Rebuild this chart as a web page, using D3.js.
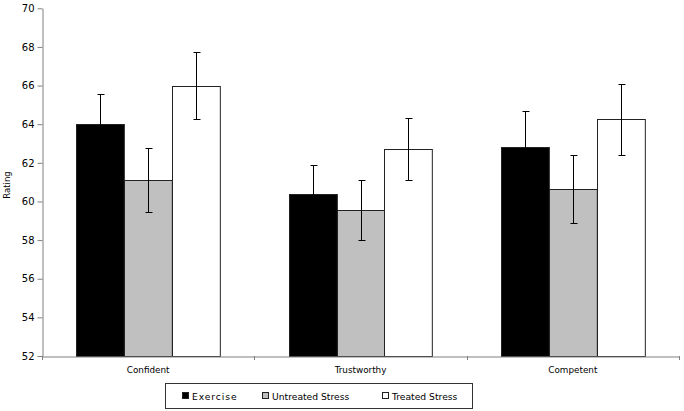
<!DOCTYPE html>
<html><head><meta charset="utf-8">
<script src="https://cdn.jsdelivr.net/npm/d3@7"></script>
<style>
body{margin:0;background:#fff;}
svg text{font-family:"DejaVu Sans",sans-serif;fill:#000;}
</style></head>
<body><svg id="c" width="684" height="411"></svg>
<script>
const categories = ["Confident", "Trustworthy", "Competent"];
const seriesNames = ["Exercise", "Untreated Stress", "Treated Stress"];
const seriesColors = ["#000000", "#c0c0c0", "#ffffff"];
const exerciseMeans = [64.0, 60.4, 62.8];
const exerciseErr = [1.57, 1.47, 1.86];
const untreatedMeans = [61.1, 59.55, 60.65];
const untreatedErr = [1.66, 1.57, 1.77];
const treatedMeans = [66.0, 62.7, 64.25];
const treatedErr = [1.72, 1.6, 1.85];
const yTicks = [52, 54, 56, 58, 60, 62, 64, 66, 68, 70];

const means = [exerciseMeans, untreatedMeans, treatedMeans];
const errs = [exerciseErr, untreatedErr, treatedErr];

const svg = d3.select("#c");
const mLeft = 42, mRight = 679, mTop = 8.3, mBottom = 356;
const y = d3.scaleLinear().domain([52, 70]).range([mBottom, mTop]);
const x = d3.scaleBand().domain(categories).range([mLeft, mRight]).padding(0);
const xs = d3.scaleBand().domain(seriesNames).range([0, x.bandwidth()]).paddingInner(0).paddingOuter(0.72);

const data = [];
categories.forEach((c, ci) => seriesNames.forEach((s, si) => {
  data.push({c, s, si, v: means[si][ci], e: errs[si][ci]});
}));

// bars
svg.append("g").selectAll("rect").data(data).join("rect")
  .attr("x", d => Math.round(x(d.c) + xs(d.s)) + 0.5)
  .attr("y", d => Math.round(y(d.v)) + 0.5)
  .attr("width", xs.bandwidth())
  .attr("height", d => y(52) - Math.round(y(d.v)))
  .attr("fill", d => seriesColors[d.si])
  .attr("stroke", "#222").attr("stroke-width", 1);

// error bars
const eg = svg.append("g").attr("stroke", "#000").attr("stroke-width", 1);
data.forEach(d => {
  const cx = Math.round(x(d.c) + xs(d.s) + xs.bandwidth() / 2) + 0.5;
  const y1 = Math.round(y(d.v + d.e)) + 0.5, y2 = Math.round(y(d.v - d.e)) + 0.5;
  eg.append("line").attr("x1", cx).attr("x2", cx).attr("y1", y1).attr("y2", y2);
  eg.append("line").attr("x1", cx - 3).attr("x2", cx + 4).attr("y1", y1).attr("y2", y1);
  eg.append("line").attr("x1", cx - 3).attr("x2", cx + 4).attr("y1", y2).attr("y2", y2);
});

// y axis
const ya = svg.append("g").attr("transform", `translate(${mLeft + 0.5},0)`)
  .call(d3.axisLeft(y).tickValues(yTicks).tickSize(5).tickSizeOuter(0).tickPadding(3));
ya.select(".domain").attr("stroke", "#808080");
ya.selectAll(".tick line").attr("stroke", "#808080");
ya.selectAll(".tick text").attr("font-size", "10px").attr("font-family", "DejaVu Sans");

// x axis
const xa = svg.append("g").attr("transform", `translate(0,${mBottom + 0.5})`)
  .call(d3.axisBottom(x).tickSize(0).tickPadding(10));
xa.select(".domain").attr("stroke", "#808080");
xa.selectAll(".tick text").attr("font-size", "8.8px").attr("font-family", "DejaVu Sans");
// category boundary ticks
const bounds = categories.map(c => x(c)).concat([mRight]);
svg.append("g").selectAll("line").data(bounds).join("line")
  .attr("x1", d => Math.round(d) + 0.5).attr("x2", d => Math.round(d) + 0.5)
  .attr("y1", mBottom).attr("y2", mBottom + 4).attr("stroke", "#808080");

// y label
svg.append("text").attr("transform", "translate(10,185) rotate(-90)")
  .attr("text-anchor", "middle").attr("font-size", "8.5px").text("Rating");

// legend
const lg = svg.append("g");
lg.append("rect").attr("x", 165.5).attr("y", 383.5).attr("width", 307).attr("height", 25)
  .attr("fill", "#fff").attr("stroke", "#333");
const legX = [182, 262, 382];
seriesNames.forEach((s, i) => {
  lg.append("rect").attr("x", legX[i] + 0.5).attr("y", 392.5).attr("width", 6).attr("height", 6)
    .attr("fill", seriesColors[i]).attr("stroke", "#222");
  lg.append("text").attr("x", legX[i] + 10).attr("y", 399.5).attr("font-size", "9.2px")
    .attr("letter-spacing", i === 0 ? "0.9px" : "0px").text(s);
});
</script></body></html>
